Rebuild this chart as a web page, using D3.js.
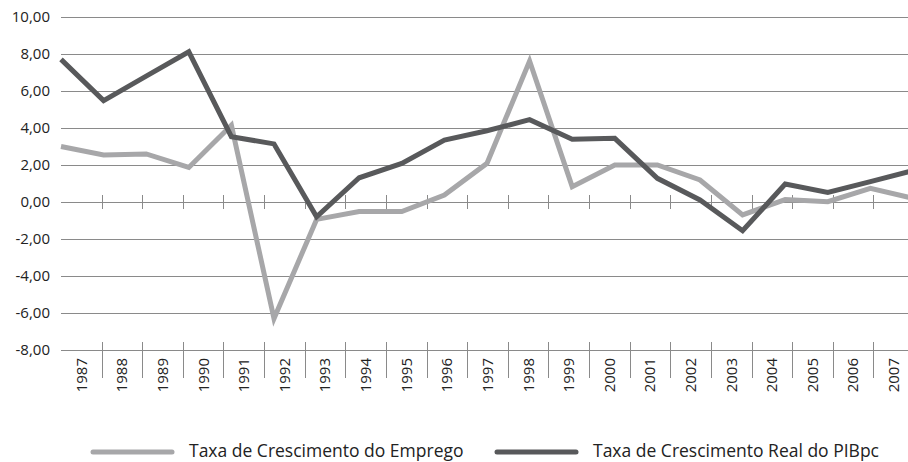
<!DOCTYPE html>
<html lang="pt">
<head>
<meta charset="utf-8">
<title>Emprego e PIBpc</title>
<script src="https://d3js.org/d3.v7.min.js"></script>
<style>
body { margin: 0; background: #fff; }
svg { display: block; font-family: "Open Sans", sans-serif; }
.grid line { stroke: #8a8a8a; stroke-width: 1; }
.axis text { fill: #222; font-size: 15px; }
.legend text { fill: #222; font-size: 17.5px; }
</style>
</head>
<body>
<svg id="chart" width="908" height="462"></svg>
<script>

// data
var years = ["1987","1988","1989","1990","1991","1992","1993","1994","1995","1996","1997",
             "1998","1999","2000","2001","2002","2003","2004","2005","2006","2007"];
var emprego = [3.0, 2.54, 2.6, 1.87, 4.15, -6.3, -0.94, -0.52, -0.52, 0.38, 2.09,
               7.62, 0.83, 2.0, 2.0, 1.19, -0.7, 0.13, 0.02, 0.74, 0.2];
var pibpc = [7.71, 5.48, 6.8, 8.12, 3.53, 3.14, -0.8, 1.31, 2.09, 3.35, 3.85,
             4.45, 3.39, 3.44, 1.28, 0.11, -1.55, 0.97, 0.52, 1.1, 1.7];
var yTicks = [10, 8, 6, 4, 2, 0, -2, -4, -6, -8];
var seriesNames = ["Taxa de Crescimento do Emprego", "Taxa de Crescimento Real do PIBpc"];
var seriesColors = ["#a7a7a9", "#58595b"];

var svg = d3.select("#chart");
var mLeft = 61, mRight = 914, mTop = 17, mBottom = 350;

var y = d3.scaleLinear().domain([-8, 10]).range([mBottom, mTop]);
// category bands for labels / ticks
var xb = d3.scaleBand().domain(years).range([mLeft, mRight]);
// the lines run from the left edge to the right edge
var xp = d3.scalePoint().domain(years).range([mLeft, 913]);

var fmt = function(v) { return d3.format(".2f")(v).replace(".", ",").replace("−", "-"); };

// horizontal gridlines
svg.append("g").attr("class", "grid")
  .selectAll("line").data(yTicks).enter().append("line")
    .attr("x1", mLeft).attr("x2", mRight)
    .attr("y1", function(d) { return Math.round(y(d)) + 0.5; })
    .attr("y2", function(d) { return Math.round(y(d)) + 0.5; });

// y axis labels
svg.append("g").attr("class", "axis")
  .selectAll("text").data(yTicks).enter().append("text")
    .attr("x", 50).attr("y", function(d) { return y(d); })
    .attr("dy", "0.36em")
    .attr("text-anchor", "end")
    .text(fmt);

// category boundaries
var bounds = years.slice(1).map(function(d) { return xb(d); });

// small ticks on the zero line
svg.append("g").attr("class", "grid")
  .selectAll("line").data(bounds).enter().append("line")
    .attr("x1", function(d) { return Math.round(d) + 0.5; })
    .attr("x2", function(d) { return Math.round(d) + 0.5; })
    .attr("y1", y(0) - 7).attr("y2", y(0) + 7);

// ticks under the bottom line
svg.append("g").attr("class", "grid")
  .selectAll("line").data(bounds).enter().append("line")
    .attr("x1", function(d) { return Math.round(d) + 0.5; })
    .attr("x2", function(d) { return Math.round(d) + 0.5; })
    .attr("y1", y(-8) - 8).attr("y2", y(-8) + 28);

// x labels, rotated
svg.append("g").attr("class", "axis")
  .selectAll("text").data(years).enter().append("text")
    .attr("transform", function(d) {
      return "translate(" + (xb(d) + xb.bandwidth() / 2) + "," + (y(-8) + 8) + ") rotate(-90)";
    })
    .attr("dy", "0.36em")
    .attr("text-anchor", "end")
    .text(function(d) { return d; });

// lines
var line = d3.line()
  .x(function(d, i) { return xp(years[i]); })
  .y(function(d) { return y(d); });

[emprego, pibpc].forEach(function(s, k) {
  svg.append("path")
    .datum(s)
    .attr("fill", "none")
    .attr("stroke", seriesColors[k])
    .attr("stroke-width", 5)
    .attr("stroke-linejoin", "miter")
    .attr("d", line);
});

// legend
var legX = [93, 497];
var leg = svg.append("g").attr("class", "legend");
seriesNames.forEach(function(name, k) {
  leg.append("line")
    .attr("x1", legX[k]).attr("x2", legX[k] + 79)
    .attr("y1", 452).attr("y2", 452)
    .attr("stroke", seriesColors[k])
    .attr("stroke-width", 5)
    .attr("stroke-linecap", "round");
  leg.append("text")
    .attr("x", legX[k] + 96).attr("y", 457)
    .text(name);
});

</script>
</body>
</html>
